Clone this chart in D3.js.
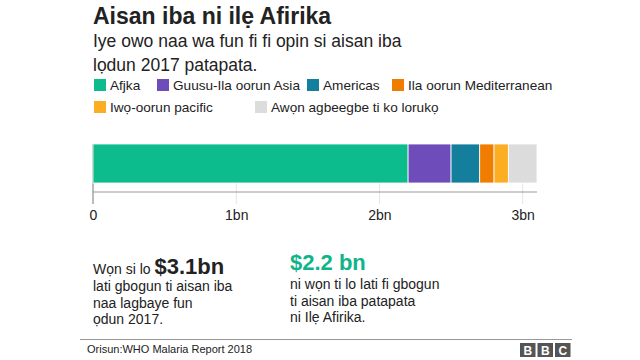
<!DOCTYPE html>
<html><head><meta charset="utf-8">
<script src="https://cdn.jsdelivr.net/npm/d3@7"></script>
<style>
html,body{margin:0;padding:0;background:#fff;}
svg{display:block;font-family:"Liberation Sans",Arial,Helvetica,sans-serif;}
</style></head>
<body><svg id="c" width="640" height="360"></svg>
<script>
const regions = ["Afjka","Guusu-Ila oorun Asia","Americas","Ila oorun Mediterranean","Iwọ-oorun pacific","Awọn agbeegbe ti ko lorukọ"];
const spending = [2.2, 0.3, 0.2, 0.1, 0.1, 0.2];
const colors = ["#0dbc8c","#6e4dbb","#137f9c","#f07d00","#fbae22","#dcdcdc"];
const tickValues = [0,1,2,3];
const tickLabels = ["0","1bn","2bn","3bn"];

const svg = d3.select("#c");
const ink = "#222";

// Title
svg.append("text").attr("x",93).attr("y",24).attr("font-size",23).attr("font-weight","bold").attr("fill",ink).text("Aisan iba ni ilẹ Afirika");
const sub = ["Iye owo naa wa fun fi fi opin si aisan iba","lọdun 2017 patapata."];
svg.selectAll(".sub").data(sub).join("text").attr("class","sub")
  .attr("x",93).attr("y",(d,i)=>47+i*24).attr("font-size",17.5).attr("fill",ink).text(d=>d);

// Legend
const legPos = [[94,85],[157,85],[307,85],[392,85],[94,107],[255,107]];
const leg = svg.selectAll(".leg").data(regions).join("g").attr("class","leg")
  .attr("transform",(d,i)=>`translate(${legPos[i][0]},${legPos[i][1]})`);
leg.append("rect").attr("x",0).attr("y",-6).attr("width",12).attr("height",12).attr("fill",(d,i)=>colors[i]);
leg.append("text").attr("x",16).attr("y",5).attr("font-size",13.6).attr("fill",ink).text(d=>d);

// Bar
const x = d3.scaleLinear().domain([0, d3.sum(spending)]).range([93, 537]);
const barTop = 144, barBottom = 183, axisY = 192;
// gridlines
svg.selectAll(".grid").data(tickValues).join("line").attr("class","grid")
  .attr("x1",d=>x(d)).attr("x2",d=>x(d)).attr("y1",barTop).attr("y2",204)
  .attr("stroke",(d,i)=>i===0?"#777":"#e4e4e4").attr("stroke-width",1);
const cum = d3.cumsum(spending);
svg.selectAll(".seg").data(spending).join("rect").attr("class","seg")
  .attr("x",(d,i)=>x(cum[i]-d)).attr("y",barTop)
  .attr("width",(d,i)=>x(cum[i])-x(cum[i]-d)).attr("height",barBottom-barTop)
  .attr("fill",(d,i)=>colors[i]).attr("stroke","#fff").attr("stroke-width",0.8);

const axis = d3.axisBottom(x).tickValues(tickValues).tickFormat((d,i)=>tickLabels[i]).tickSize(0).tickPadding(18);
const ag = svg.append("g").attr("transform",`translate(0,${axisY})`).call(axis);
ag.select(".domain").attr("stroke","#999").attr("d",`M${x(0)},0H537`);
ag.selectAll("text").attr("font-size",14).attr("fill",ink).attr("font-family","Liberation Sans, Arial, sans-serif");

// Bottom annotations
const t1 = svg.append("text").attr("x",93).attr("y",274).attr("fill",ink);
t1.append("tspan").attr("font-size",14).text("Wọn si lo ");
t1.append("tspan").attr("font-size",22).attr("font-weight","bold").text("$3.1bn");
const leftLines = ["lati gbogun ti aisan iba","naa lagbaye fun","ọdun 2017."];
svg.selectAll(".ll").data(leftLines).join("text").attr("class","ll")
  .attr("x",93).attr("y",(d,i)=>291+i*16.5).attr("font-size",14).attr("fill",ink).text(d=>d);

svg.append("text").attr("x",290).attr("y",270).attr("font-size",22).attr("font-weight","bold").attr("fill","#0fb489").text("$2.2 bn");
const rightLines = ["ni wọn ti lo lati fi gbogun","ti aisan iba patapata","ni Ilẹ Afirika."];
svg.selectAll(".rl").data(rightLines).join("text").attr("class","rl")
  .attr("x",290).attr("y",(d,i)=>289+i*16.5).attr("font-size",14).attr("fill",ink).text(d=>d);

// Footer
svg.append("line").attr("x1",80).attr("x2",572).attr("y1",339.5).attr("y2",339.5).attr("stroke","#999");
svg.append("text").attr("x",87).attr("y",353).attr("font-size",11).attr("fill",ink).text("Orisun:WHO Malaria Report 2018");
const bbc = svg.append("g").attr("transform","translate(520,343)");
["B","B","C"].forEach((l,i)=>{
  bbc.append("rect").attr("x",i*17.5).attr("y",0).attr("width",15.5).attr("height",14).attr("fill","#555");
  bbc.append("text").attr("x",i*17.5+7.75).attr("y",11.5).attr("text-anchor","middle").attr("font-size",12).attr("font-weight","bold").attr("fill","#fff").text(l);
});
</script></body></html>
